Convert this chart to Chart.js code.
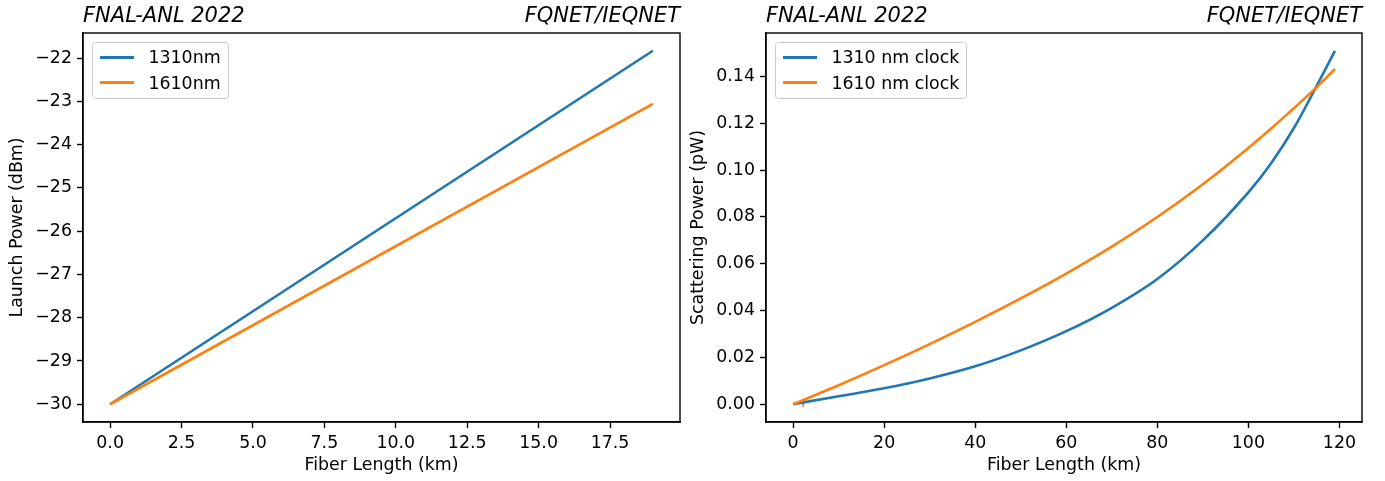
<!DOCTYPE html>
<html>
<head>
<meta charset="utf-8">
<title>Launch and scattering power vs fiber length</title>
<script src="https://cdn.jsdelivr.net/npm/chart.js@4.4.1/dist/chart.umd.min.js"></script>
<style>
  body { margin: 0; background: #fff; }
  #figure { position: relative; width: 1385px; height: 481px; font-family: 'DejaVu Sans', sans-serif; color: #000; }
  canvas { position: absolute; top: 0; }
  #leftChart { left: 0; }
  #rightChart { left: 684px; }
  .panel-title { position: absolute; top: 5px; font-size: 21px; line-height: 21px; font-style: italic; white-space: nowrap; }
  .legend {
    position: absolute;
    top: 41.7px;
    box-sizing: border-box;
    padding: 2px 7px 3px 7px;
    border: 1px solid #cccccc;
    border-radius: 3.5px;
    background: rgba(255, 255, 255, 0.8);
    font-size: 17.4px;
    white-space: nowrap;
  }
  .legend-row { height: 25.3px; display: flex; align-items: center; }
  .swatch { display: inline-block; width: 34.8px; height: 2.6px; margin-right: 13.9px; }
</style>
</head>
<body>
<div id="figure">
  <canvas id="leftChart" width="684" height="481"></canvas>
  <canvas id="rightChart" width="701" height="481"></canvas>
  <div class="panel-title" style="left: 83px;">FNAL-ANL 2022</div>
  <div class="panel-title" style="right: 705px;">FQNET/IEQNET</div>
  <div class="panel-title" style="left: 766px;">FNAL-ANL 2022</div>
  <div class="panel-title" style="right: 23px;">FQNET/IEQNET</div>
</div>
<script>
const FONT = "'DejaVu Sans', sans-serif";
const BLUE = '#1f77b4';
const ORANGE = '#ff7f0e';

// left panel: launch power
const launchKm = [0, 19];
const launch1310 = [-30, -21.83];
const launch1610 = [-30, -23.06];
const launchXTicks = [0, 2.5, 5, 7.5, 10, 12.5, 15, 17.5];
const launchYTicks = [-30, -29, -28, -27, -26, -25, -24, -23, -22];

// right panel: scattering power
const scatterKm = [0, 10, 20, 30, 40, 50, 60, 70, 80, 90, 100, 105, 110, 115, 119];
const scatter1310 = [0, 0.0034, 0.0068, 0.0110, 0.0162, 0.0230, 0.0312, 0.0412, 0.0535, 0.0700, 0.0905, 0.1030, 0.1180, 0.1360, 0.1510];
const scatter1610 = [0, 0.0081, 0.0167, 0.0257, 0.0352, 0.0452, 0.0558, 0.0673, 0.0800, 0.0940, 0.1095, 0.1178, 0.1265, 0.1355, 0.1432];
const markKm = [2.2];
const markPw = [-0.0005];
const scatterXTicks = [0, 20, 40, 60, 80, 100, 120];
const scatterYTicks = [0, 0.02, 0.04, 0.06, 0.08, 0.10, 0.12, 0.14];

const figure = document.getElementById('figure');

function toPoints(xs, ys) {
  return xs.map((x, i) => ({ x, y: ys[i] }));
}

function fmt(value, digits) {
  const text = Math.abs(value).toFixed(digits);
  return value < -1e-9 ? '\u2212' + text : text;
}

function makeAxis(opts) {
  const font = { family: FONT, size: 17.4 };
  return {
    type: 'linear',
    position: opts.position,
    min: opts.min,
    max: opts.max,
    afterBuildTicks: (axis) => {
      axis.ticks = opts.ticks.map((v) => ({ value: v }));
    },
    afterFit: (axis) => {
      if (opts.position === 'left') {
        axis.width = opts.size;
      } else {
        axis.height = opts.size;
      }
    },
    ticks: {
      color: '#000',
      font,
      padding: 5,
      maxRotation: 0,
      autoSkip: false,
      callback: (value) => fmt(value, opts.digits)
    },
    grid: {
      display: true,
      drawOnChartArea: false,
      drawTicks: true,
      tickLength: 6,
      tickWidth: 1.4,
      tickColor: '#000'
    },
    border: { display: true, color: '#000', width: 1.4 },
    title: {
      display: true,
      text: opts.title,
      color: '#000',
      font,
      padding: opts.titlePadding
    }
  };
}

const framePlugin = {
  id: 'frame',
  afterDraw(chart) {
    const { ctx, chartArea: a } = chart;
    ctx.save();
    ctx.strokeStyle = '#000';
    ctx.lineWidth = 1.4;
    ctx.strokeRect(a.left, a.top, a.right - a.left, a.bottom - a.top);
    ctx.restore();
  }
};

function lineSet(label, xs, ys, color, order, curved) {
  return {
    label,
    data: toPoints(xs, ys),
    borderColor: color,
    backgroundColor: color,
    borderWidth: 2.6,
    pointRadius: 0,
    fill: false,
    order,
    cubicInterpolationMode: curved ? 'monotone' : 'default',
    tension: 0
  };
}

function buildLegend(chart, left) {
  const box = document.createElement('div');
  box.className = 'legend';
  box.style.left = left + 'px';
  chart.data.datasets.filter((ds) => ds.label).forEach((ds) => {
    const row = document.createElement('div');
    row.className = 'legend-row';
    const swatch = document.createElement('span');
    swatch.className = 'swatch';
    swatch.style.background = ds.borderColor;
    const text = document.createElement('span');
    text.textContent = ds.label;
    row.append(swatch, text);
    box.append(row);
  });
  figure.append(box);
}

function baseOptions(padding, xAxis, yAxis) {
  return {
    responsive: false,
    animation: false,
    layout: { padding },
    plugins: {
      legend: { display: false },
      tooltip: { enabled: false }
    },
    scales: { x: xAxis, y: yAxis }
  };
}

const leftChart = new Chart(document.getElementById('leftChart'), {
  type: 'line',
  data: {
    datasets: [
      lineSet('1310nm', launchKm, launch1310, BLUE, 2, false),
      lineSet('1610nm', launchKm, launch1610, ORANGE, 1, false)
    ]
  },
  options: baseOptions(
    { top: 33, right: 4, bottom: 0, left: 0 },
    makeAxis({ position: 'bottom', min: -0.95, max: 19.95, ticks: launchXTicks, digits: 1, size: 59,
      title: 'Fiber Length (km)', titlePadding: { top: 0, bottom: 5 } }),
    makeAxis({ position: 'left', min: -30.41, max: -21.42, ticks: launchYTicks, digits: 0, size: 83,
      title: 'Launch Power (dBm)', titlePadding: { top: 7, bottom: 0 } })
  ),
  plugins: [framePlugin]
});

const rightChart = new Chart(document.getElementById('rightChart'), {
  type: 'line',
  data: {
    datasets: [
      lineSet('1310 nm clock', scatterKm, scatter1310, BLUE, 2, true),
      lineSet('1610 nm clock', scatterKm, scatter1610, ORANGE, 1, true),
      {
        data: toPoints(markKm, markPw),
        showLine: false,
        pointStyle: 'line',
        rotation: 90,
        pointRadius: 1.5,
        pointBorderWidth: 1,
        borderColor: 'red',
        backgroundColor: 'red',
        order: 3
      }
    ]
  },
  options: baseOptions(
    { top: 33, right: 23, bottom: 0, left: 0 },
    makeAxis({ position: 'bottom', min: -5.95, max: 124.95, ticks: scatterXTicks, digits: 0, size: 59,
      title: 'Fiber Length (km)', titlePadding: { top: 0, bottom: 5 } }),
    makeAxis({ position: 'left', min: -0.0076, max: 0.1586, ticks: scatterYTicks, digits: 2, size: 82,
      title: 'Scattering Power (pW)', titlePadding: { top: 4.5, bottom: 0 } })
  ),
  plugins: [framePlugin]
});

buildLegend(leftChart, 91.7);
buildLegend(rightChart, 774.7);
</script>
</body>
</html>
